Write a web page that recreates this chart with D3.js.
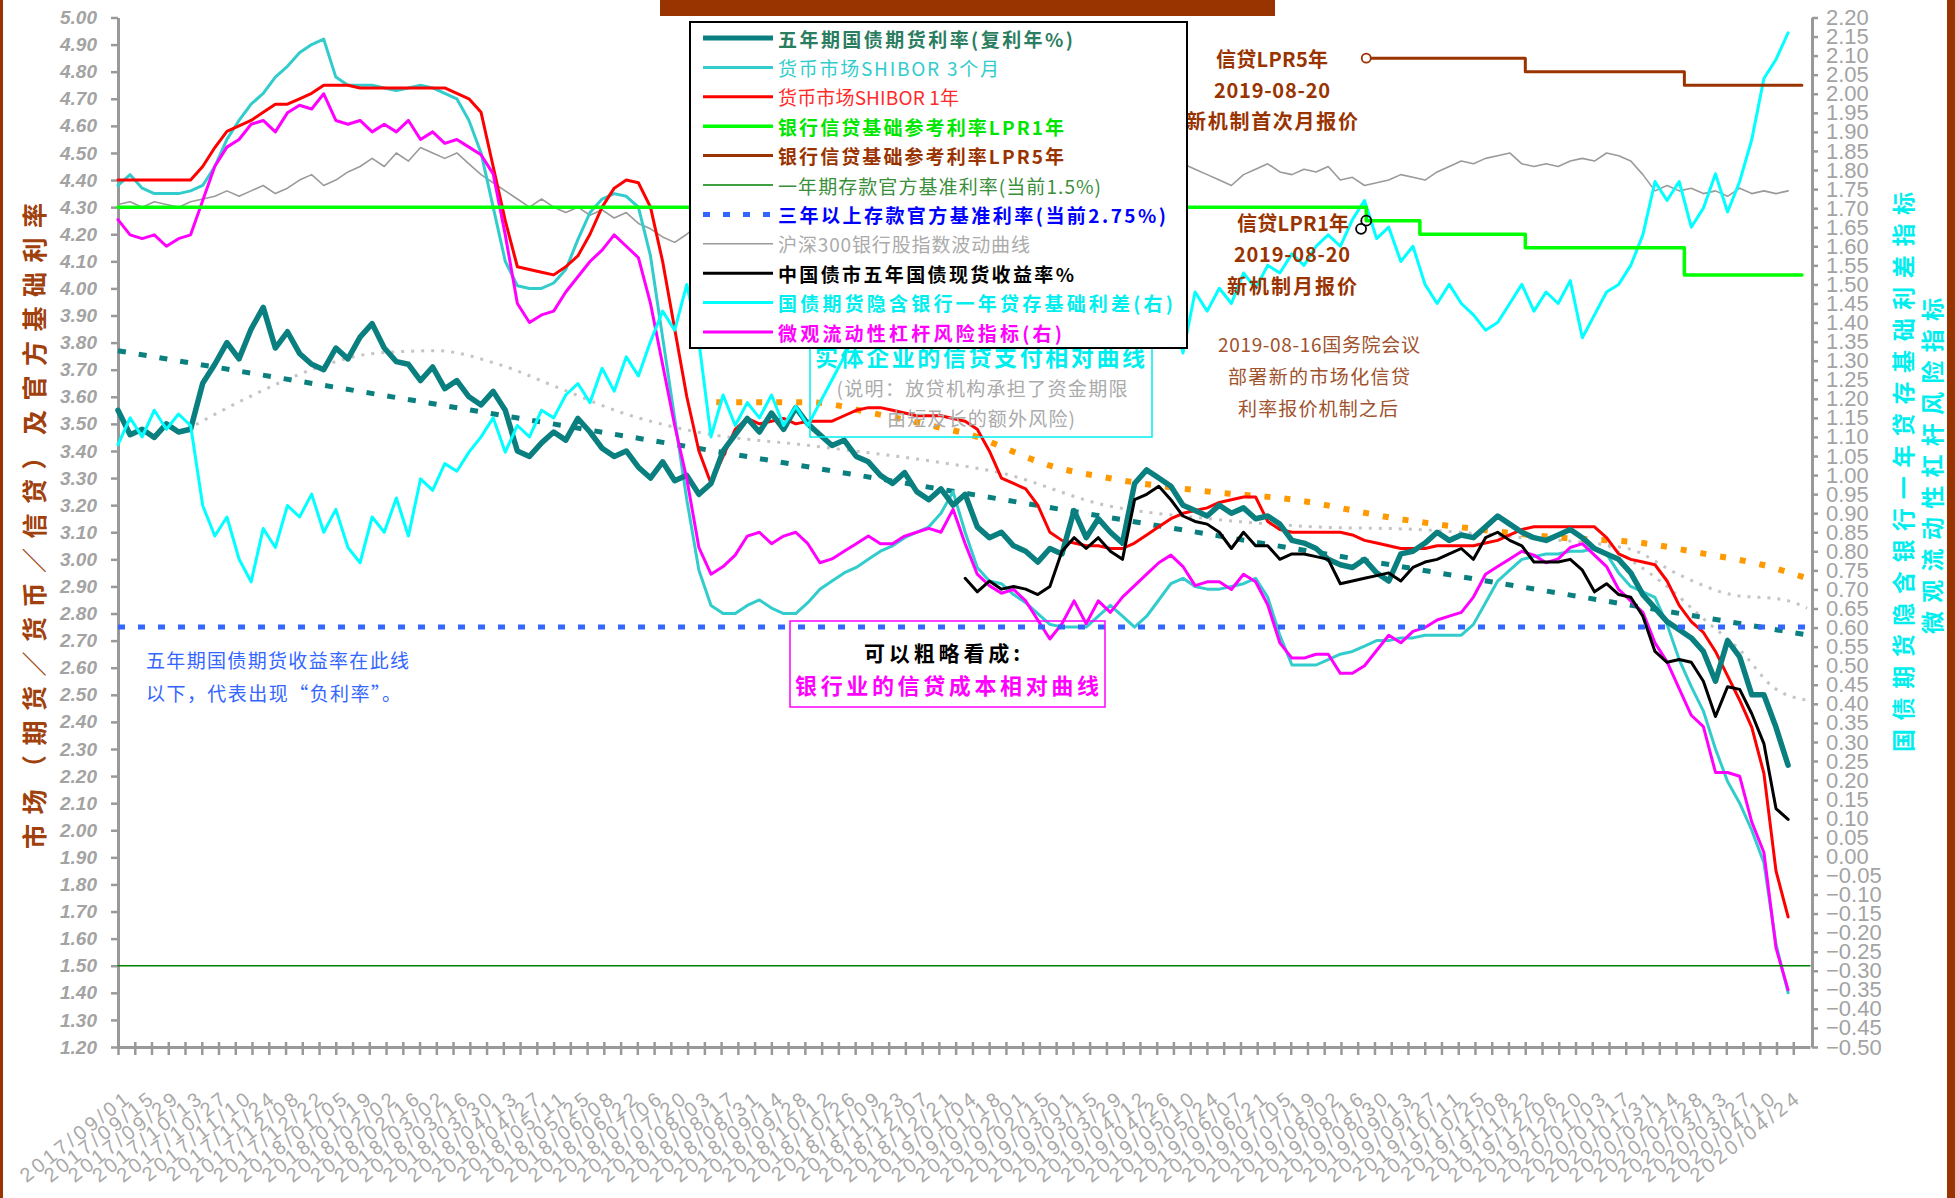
<!DOCTYPE html>
<html><head><meta charset="utf-8">
<script src="https://cdn.jsdelivr.net/npm/d3@7/dist/d3.min.js"></script>
<style>body{margin:0;background:#fff;} svg{display:block;}</style>
</head><body>
<svg id="c" width="1955" height="1198"></svg>
<script>
// ---------------- DATA ----------------
const weekStart = "2017-08-28";           // weekly observations start
const spotStart = "2018-12-31";           // spot 5Y yield starts later

const leftTicks = [1.2,1.3,1.4,1.5,1.6,1.7,1.8,1.9,2.0,2.1,2.2,2.3,2.4,2.5,2.6,2.7,2.8,2.9,3.0,3.1,3.2,3.3,3.4,3.5,3.6,3.7,3.8,3.9,4.0,4.1,4.2,4.3,4.4,4.5,4.6,4.7,4.8,4.9,5.0];
const rightTicks = [-0.5,-0.45,-0.4,-0.35,-0.3,-0.25,-0.2,-0.15,-0.1,-0.05,0,0.05,0.1,0.15,0.2,0.25,0.3,0.35,0.4,0.45,0.5,0.55,0.6,0.65,0.7,0.75,0.8,0.85,0.9,0.95,1.0,1.05,1.1,1.15,1.2,1.25,1.3,1.35,1.4,1.45,1.5,1.55,1.6,1.65,1.7,1.75,1.8,1.85,1.9,1.95,2.0,2.05,2.1,2.15,2.2];
const dateLabels = ["2017/09/01","2017/09/15","2017/09/29","2017/10/13","2017/10/27","2017/11/10","2017/11/24","2017/12/08","2017/12/22",
"2018/01/05","2018/01/19","2018/02/02","2018/02/16","2018/03/02","2018/03/16","2018/03/30","2018/04/13","2018/04/27","2018/05/11","2018/05/25","2018/06/08","2018/06/22","2018/07/06","2018/07/20","2018/08/03","2018/08/17","2018/08/31","2018/09/14","2018/09/28","2018/10/12","2018/10/26","2018/11/09","2018/11/23","2018/12/07","2018/12/21",
"2019/01/04","2019/01/18","2019/02/01","2019/02/15","2019/03/01","2019/03/15","2019/03/29","2019/04/12","2019/04/26","2019/05/10","2019/05/24","2019/06/07","2019/06/21","2019/07/05","2019/07/19","2019/08/02","2019/08/16","2019/08/30","2019/09/13","2019/09/27","2019/10/11","2019/10/25","2019/11/08","2019/11/22","2019/12/06","2019/12/20",
"2020/01/03","2020/01/17","2020/01/31","2020/02/14","2020/02/28","2020/03/13","2020/03/27","2020/04/10","2020/04/24"];

const seriesNames = ["五年期国债期货利率(复利年%)","货币市场SHIBOR 3个月","货币市场SHIBOR 1年","银行信贷基础参考利率LPR1年","银行信贷基础参考利率LPR5年","一年期存款官方基准利率(当前1.5%)","三年以上存款官方基准利率(当前2.75%)","沪深300银行股指数波动曲线","中国债市五年国债现货收益率%","国债期货隐含银行一年贷存基础利差(右)","微观流动性杠杆风险指标(右)"];

// 五年期国债期货利率 (left)
const futures5y = [3.55,3.46,3.48,3.45,3.50,3.47,3.48,3.65,3.72,3.80,
3.74,3.85,3.93,3.78,3.84,3.76,3.72,3.70,3.78,3.74,
3.82,3.87,3.78,3.73,3.72,3.66,3.71,3.63,3.66,3.60,
3.57,3.62,3.55,3.40,3.38,3.43,3.47,3.44,3.52,3.47,
3.41,3.38,3.40,3.34,3.30,3.36,3.29,3.31,3.24,3.28,
3.40,3.46,3.52,3.47,3.54,3.48,3.56,3.50,3.46,3.42,
3.44,3.38,3.36,3.31,3.28,3.32,3.25,3.22,3.26,3.20,
3.24,3.12,3.08,3.10,3.05,3.03,2.99,3.04,3.02,3.18,
3.08,3.15,3.10,3.06,3.28,3.33,3.30,3.27,3.20,3.18,
3.16,3.20,3.17,3.19,3.15,3.16,3.13,3.07,3.06,3.04,
3.00,2.98,2.97,3.00,2.95,2.92,3.02,3.03,3.06,3.10,
3.07,3.09,3.08,3.12,3.16,3.13,3.10,3.08,3.07,3.09,
3.11,3.08,3.04,3.02,3.00,2.95,2.87,2.82,2.77,2.74,
2.71,2.66,2.55,2.70,2.64,2.50,2.50,2.38,2.24];

// SHIBOR 3个月 (left)
const shibor3m = [4.38,4.42,4.37,4.35,4.35,4.35,4.36,4.38,4.45,4.55,
4.62,4.68,4.72,4.78,4.82,4.87,4.90,4.92,4.78,4.75,
4.75,4.75,4.74,4.73,4.74,4.75,4.74,4.72,4.70,4.62,
4.50,4.30,4.10,4.01,4.00,4.00,4.02,4.07,4.18,4.28,
4.33,4.35,4.34,4.30,4.12,3.82,3.52,3.22,2.96,2.83,
2.80,2.80,2.83,2.85,2.82,2.80,2.80,2.84,2.89,2.92,
2.95,2.97,3.00,3.03,3.05,3.08,3.10,3.12,3.17,3.25,
3.10,2.97,2.92,2.91,2.87,2.84,2.80,2.76,2.75,2.75,
2.75,2.79,2.83,2.79,2.75,2.79,2.85,2.91,2.93,2.90,
2.89,2.89,2.90,2.91,2.93,2.86,2.72,2.61,2.61,2.61,
2.63,2.65,2.66,2.68,2.70,2.70,2.71,2.71,2.72,2.72,
2.72,2.72,2.76,2.84,2.92,2.96,3.00,3.01,3.02,3.02,
3.03,3.03,3.04,3.02,2.95,2.90,2.88,2.86,2.76,2.63,
2.53,2.44,2.30,2.18,2.10,2.00,1.88,1.58,1.40];

// SHIBOR 1年 (left)
const shibor1y = [4.40,4.40,4.40,4.40,4.40,4.40,4.40,4.45,4.52,4.58,
4.60,4.62,4.65,4.68,4.68,4.70,4.72,4.75,4.75,4.75,
4.74,4.74,4.74,4.74,4.74,4.74,4.74,4.74,4.72,4.70,
4.65,4.45,4.25,4.08,4.07,4.06,4.05,4.08,4.12,4.20,
4.30,4.37,4.40,4.39,4.30,4.10,3.85,3.60,3.40,3.28,
3.38,3.48,3.52,3.50,3.51,3.52,3.50,3.51,3.51,3.51,
3.53,3.55,3.56,3.56,3.55,3.54,3.53,3.53,3.53,3.52,
3.51,3.48,3.40,3.30,3.28,3.26,3.20,3.10,3.07,3.06,
3.05,3.05,3.04,3.04,3.06,3.09,3.12,3.15,3.17,3.18,
3.19,3.21,3.22,3.23,3.23,3.14,3.11,3.10,3.10,3.10,
3.10,3.10,3.09,3.07,3.06,3.05,3.04,3.04,3.04,3.05,
3.05,3.05,3.05,3.06,3.07,3.09,3.11,3.12,3.12,3.12,
3.12,3.12,3.12,3.08,3.02,3.00,2.99,2.98,2.92,2.83,
2.77,2.73,2.66,2.57,2.48,2.38,2.21,1.85,1.68];

// 沪深300银行股指数波动曲线 (left)
const bankIndex = [4.31,4.32,4.30,4.32,4.31,4.30,4.32,4.33,4.34,4.36,
4.34,4.36,4.38,4.35,4.37,4.40,4.42,4.38,4.40,4.43,
4.45,4.48,4.45,4.50,4.47,4.52,4.50,4.48,4.50,4.46,
4.42,4.39,4.36,4.33,4.30,4.33,4.30,4.28,4.30,4.27,
4.29,4.26,4.28,4.24,4.22,4.19,4.17,4.20,4.24,4.28,
4.30,4.28,4.30,4.32,4.28,4.30,4.33,4.35,4.32,4.34,
4.36,4.33,4.35,4.38,4.36,4.34,4.37,4.40,4.38,4.36,
4.39,4.42,4.40,4.38,4.41,4.43,4.40,4.42,4.45,4.43,
4.41,4.44,4.46,4.43,4.45,4.47,4.44,4.46,4.46,4.44,
4.42,4.40,4.38,4.42,4.44,4.46,4.43,4.42,4.44,4.43,
4.45,4.40,4.41,4.38,4.39,4.40,4.42,4.41,4.40,4.43,
4.45,4.47,4.46,4.48,4.49,4.50,4.46,4.45,4.46,4.45,
4.47,4.48,4.47,4.50,4.49,4.47,4.42,4.36,4.38,4.36,
4.37,4.35,4.36,4.34,4.37,4.35,4.36,4.35,4.36];

// 中国债市五年国债现货收益率 (left), weekly from spotStart
const spot5y = [2.93,2.88,2.92,2.89,2.90,2.89,2.87,2.90,3.03,3.08,
3.04,3.08,3.03,3.00,3.22,3.24,3.27,3.22,3.16,3.14,
3.13,3.10,3.04,3.10,3.05,3.05,3.00,3.02,3.02,3.01,
3.00,2.91,2.92,2.93,2.94,2.95,2.92,2.97,2.99,3.00,
3.02,3.04,3.00,3.08,3.10,3.07,3.05,2.99,2.99,2.99,
3.00,2.96,2.88,2.91,2.87,2.86,2.79,2.66,2.62,2.63,
2.62,2.55,2.42,2.53,2.52,2.43,2.32,2.08,2.04];

// 国债期货隐含银行一年贷存基础利差 (right)
const impliedSpread = [1.08,1.15,1.10,1.17,1.12,1.16,1.13,0.92,0.84,0.89,
0.78,0.72,0.86,0.81,0.92,0.89,0.95,0.85,0.91,0.81,
0.77,0.89,0.85,0.94,0.84,0.99,0.96,1.03,1.01,1.06,
1.10,1.15,1.06,1.13,1.10,1.17,1.15,1.21,1.24,1.19,
1.28,1.22,1.31,1.26,1.35,1.43,1.38,1.50,1.35,1.10,
1.21,1.13,1.19,1.15,1.21,1.13,1.18,1.13,1.19,1.25,
1.31,1.38,1.42,1.45,1.50,1.43,1.53,1.48,1.55,1.45,
1.50,1.42,1.48,1.53,1.45,1.49,1.43,1.53,1.46,1.50,
1.45,1.49,1.43,1.48,1.42,1.45,1.40,1.46,1.32,1.48,
1.43,1.49,1.45,1.53,1.49,1.55,1.53,1.58,1.55,1.60,
1.63,1.60,1.67,1.72,1.62,1.65,1.56,1.60,1.50,1.45,
1.50,1.45,1.42,1.38,1.40,1.45,1.50,1.43,1.48,1.45,
1.51,1.36,1.42,1.48,1.50,1.55,1.63,1.77,1.72,1.77,
1.65,1.70,1.79,1.69,1.77,1.88,2.04,2.09,2.16];

// 微观流动性杠杆风险指标 (right)
const leverageRisk = [1.67,1.63,1.62,1.63,1.60,1.62,1.63,1.72,1.81,1.86,
1.88,1.92,1.93,1.90,1.95,1.97,1.96,2.00,1.93,1.92,
1.93,1.90,1.92,1.90,1.93,1.88,1.90,1.87,1.88,1.86,
1.84,1.79,1.63,1.45,1.40,1.42,1.43,1.48,1.52,1.56,
1.59,1.63,1.60,1.57,1.45,1.29,1.13,0.99,0.81,0.74,
0.76,0.79,0.84,0.85,0.82,0.84,0.85,0.82,0.77,0.78,
0.80,0.82,0.84,0.82,0.82,0.84,0.85,0.86,0.85,0.91,
0.82,0.74,0.71,0.69,0.70,0.67,0.62,0.57,0.61,0.67,
0.61,0.67,0.64,0.68,0.71,0.74,0.77,0.79,0.76,0.71,
0.72,0.72,0.70,0.74,0.72,0.66,0.56,0.52,0.52,0.53,
0.53,0.48,0.48,0.50,0.54,0.58,0.56,0.59,0.60,0.62,
0.63,0.64,0.68,0.74,0.76,0.78,0.80,0.79,0.77,0.78,
0.81,0.82,0.79,0.76,0.70,0.67,0.64,0.56,0.51,0.44,
0.37,0.34,0.22,0.22,0.21,0.09,0.01,-0.24,-0.35];

// LPR steps (left)
const lpr1Dates = ["2017-08-28","2019-08-20","2019-09-20","2019-11-20","2020-02-20","2020-04-28"];
const lpr1Values = [4.30,4.25,4.20,4.15,4.05,4.05];
const lpr5Dates = ["2019-08-20","2019-11-20","2020-02-20","2020-04-28"];
const lpr5Values = [4.85,4.80,4.75,4.75];
// official deposit benchmark rates
const deposit1y = 1.50;
const deposit3y = 2.75;
// trend curves (left)
const trendFutDates = ["2017-08-28","2020-05-02"];
const trendFutValues = [3.77,2.72];
const trendOrangeDates = ["2018-08-09","2018-10-02","2018-11-07","2018-12-14","2019-01-08","2019-01-23","2019-02-16","2019-03-24","2019-05-21","2019-07-09","2019-09-07","2019-10-25","2019-12-10","2020-01-27","2020-03-03","2020-04-05","2020-05-01"];
const trendOrangeValues = [3.58,3.58,3.54,3.49,3.45,3.41,3.35,3.30,3.25,3.22,3.15,3.11,3.08,3.06,3.02,2.98,2.93];
const trendGrayADates = ["2017-10-07","2017-11-12","2017-12-18","2018-01-23","2018-02-28","2018-04-05","2018-05-11","2018-06-16","2018-07-29","2018-10-02","2018-12-14","2019-01-20","2019-03-22","2019-05-21","2019-07-21","2019-09-19","2019-11-19","2020-01-18","2020-02-18","2020-03-18","2020-04-18","2020-05-01"];
const trendGrayAValues = [3.48,3.60,3.70,3.76,3.77,3.72,3.63,3.54,3.47,3.42,3.36,3.32,3.20,3.15,3.12,3.11,3.08,3.04,2.94,2.87,2.85,2.82];
const trendGrayBDates = ["2020-01-07","2020-02-08","2020-03-04","2020-03-24","2020-04-11","2020-05-01"];
const trendGrayBValues = [3.05,2.91,2.77,2.66,2.53,2.48];

// ---------------- CHART ----------------
const svg = d3.select("#c");
const W = 1955, H = 1198;
const parse = d3.timeParse("%Y-%m-%d");
const parseSlash = d3.timeParse("%Y/%m/%d");
const weeks = futures5y.map((_, i) => d3.timeDay.offset(parse(weekStart), 7 * i));
const spotWeeks = spot5y.map((_, i) => d3.timeDay.offset(parse(spotStart), 7 * i));

const x = d3.scaleTime().domain([parse("2017-08-28"), new Date(2020, 4, 2, 16)]).range([118, 1810]);
const yL = d3.scaleLinear().domain([1.2, 5.0]).range([1047, 17.5]);
const yR = d3.scaleLinear().domain([-0.5, 2.2]).range([1047, 17.5]);

const CJK = "'Noto Sans CJK SC','Noto Sans CJK JP',sans-serif";

// frame
svg.append("rect").attr("x", 0).attr("y", 0).attr("width", 3).attr("height", H).attr("fill", "#993300");
svg.append("rect").attr("x", 1947).attr("y", 0).attr("width", 8).attr("height", H).attr("fill", "#993300");
svg.append("rect").attr("x", 660).attr("y", 0).attr("width", 615).attr("height", 16).attr("fill", "#993300");

// axes
const gL = svg.append("g").attr("transform", "translate(118,0)")
  .call(d3.axisLeft(yL).tickValues(leftTicks).tickFormat(d3.format(".2f")).tickSize(7).tickSizeOuter(0).tickPadding(14));
gL.select(".domain").attr("stroke", "#999").attr("stroke-width", 3);
gL.selectAll(".tick line").attr("stroke", "#999").attr("stroke-width", 2.5);
gL.selectAll(".tick text").attr("fill", "#a3a3a3")
  .style("font-family", "'Liberation Sans',Arial,sans-serif").style("font-size", "19px")
  .style("font-weight", "bold").style("font-style", "italic");

const gR = svg.append("g").attr("transform", "translate(1812,0)")
  .call(d3.axisRight(yR).tickValues(rightTicks).tickFormat(d3.format(".2f")).tickSize(6).tickSizeOuter(0).tickPadding(8));
gR.select(".domain").attr("stroke", "#999").attr("stroke-width", 3);
gR.selectAll(".tick line").attr("stroke", "#999").attr("stroke-width", 2.5);
gR.selectAll(".tick text").attr("fill", "#a3a3a3")
  .style("font-family", "'Liberation Sans Narrow','Liberation Sans',Arial,sans-serif").style("font-size", "22px");

const xTickDates = d3.range(0, 102).map(i => d3.timeHour.offset(parse("2017-08-28"), Math.round(i * 9.69 * 24)));
const gB = svg.append("g").attr("transform", "translate(0,1047)")
  .call(d3.axisBottom(x).tickValues(xTickDates.filter(d => x(d) <= 1810)).tickFormat("").tickSize(8).tickSizeOuter(0));
gB.select(".domain").attr("stroke", "#999").attr("stroke-width", 3);
gB.selectAll(".tick line").attr("stroke", "#999").attr("stroke-width", 2.5).attr("y1", -5);

svg.append("g").selectAll("text").data(dateLabels).join("text")
  .attr("transform", d => `translate(${x(parseSlash(d)) + 8},1100) rotate(-38)`)
  .attr("text-anchor", "end")
  .attr("fill", "#a8a8a8")
  .style("font-family", "'Liberation Sans Narrow','Liberation Sans',Arial,sans-serif")
  .style("font-size", "20px").style("letter-spacing", "3.5px")
  .text(d => d);

// axis titles
svg.append("text").attr("transform", "translate(33,526) rotate(-90)")
  .attr("text-anchor", "middle").attr("dominant-baseline", "central")
  .attr("fill", "#a0410d").style("font-family", CJK).style("font-size", "25px").style("font-weight", "bold")
  .attr("textLength", 646).attr("lengthAdjust", "spacing")
  .text("市场（期货／货币／信贷）及官方基础利率");
svg.append("text").attr("transform", "translate(1902,472) rotate(-90)")
  .attr("text-anchor", "middle").attr("dominant-baseline", "central")
  .attr("fill", "#00eeee").style("font-family", CJK).style("font-size", "23px").style("font-weight", "bold")
  .attr("textLength", 560).attr("lengthAdjust", "spacing")
  .text("国债期货隐含银行一年贷存基础利差指标");
svg.append("text").attr("transform", "translate(1931,466) rotate(-90)")
  .attr("text-anchor", "middle").attr("dominant-baseline", "central")
  .attr("fill", "#00eeee").style("font-family", CJK).style("font-size", "23px").style("font-weight", "bold")
  .attr("textLength", 336).attr("lengthAdjust", "spacing")
  .text("微观流动性杠杆风险指标");

// line helper
function drawLine(dates, values, yScale, color, width, dash, curve) {
  const pts = dates.map((d, i) => [d, values[i]]);
  const gen = d3.line().defined(p => p[1] != null).x(p => x(p[0])).y(p => yScale(p[1])).curve(curve || d3.curveLinear);
  const p = svg.append("path").datum(pts).attr("d", gen).attr("fill", "none")
    .attr("stroke", color).attr("stroke-width", width).attr("stroke-linejoin", "round").attr("stroke-linecap", dash ? "butt" : "round");
  if (dash) p.attr("stroke-dasharray", dash);
  return p;
}

// thin / trend lines
drawLine(weeks, bankIndex, yL, "#9a9a9a", 1.6);
drawLine(trendGrayADates.map(parse), trendGrayAValues, yL, "#c4c4c4", 3, "3 7", d3.curveMonotoneX);
drawLine(trendGrayBDates.map(parse), trendGrayBValues, yL, "#c4c4c4", 3, "3 7", d3.curveMonotoneX);
drawLine(trendOrangeDates.map(parse), trendOrangeValues, yL, "#ff9900", 6, "6 14", d3.curveMonotoneX);
drawLine(trendFutDates.map(parse), trendFutValues, yL, "#0a7f7f", 5, "8 13");

// main series
drawLine(weeks, shibor3m, yL, "#33cccc", 3);
drawLine(weeks, shibor1y, yL, "#ff0000", 3);
drawLine(weeks, futures5y, yL, "#0a7f7f", 5.5);
drawLine(weeks, leverageRisk, yR, "#ff00ff", 3);
drawLine(weeks, impliedSpread, yR, "#00ffff", 3);
drawLine(spotWeeks, spot5y, yL, "#000000", 3);
drawLine(lpr1Dates.map(parse), lpr1Values, yL, "#00ff00", 3.5, null, d3.curveStepAfter);
drawLine(lpr5Dates.map(parse), lpr5Values, yL, "#993300", 3, null, d3.curveStepAfter);
drawLine([parse("2017-08-28"), new Date(2020, 4, 2, 16)], [deposit1y, deposit1y], yL, "#008000", 1.5);
drawLine([parse("2017-08-28"), new Date(2020, 4, 2, 16)], [deposit3y, deposit3y], yL, "#3366ff", 5, "7 13");

// markers at new LPR mechanism start
svg.append("circle").attr("cx", x(parse("2019-08-20"))).attr("cy", yL(lpr5Values[0])).attr("r", 4.5)
  .attr("fill", "#fff").attr("stroke", "#993300").attr("stroke-width", 1.8);
svg.append("circle").attr("cx", x(parse("2019-08-20"))).attr("cy", yL(lpr1Values[1])).attr("r", 5)
  .attr("fill", "none").attr("stroke", "#000").attr("stroke-width", 1.8);
svg.append("circle").attr("cx", x(parse("2019-08-17"))).attr("cy", yL(4.22)).attr("r", 5)
  .attr("fill", "none").attr("stroke", "#000").attr("stroke-width", 1.8);

// text helper
function txt(xp, yp, s, color, size, weight, len, anchor) {
  const t = svg.append("text").attr("x", xp).attr("y", yp).attr("text-anchor", anchor || "middle")
    .attr("dominant-baseline", "central").attr("fill", color)
    .style("font-family", CJK).style("font-size", size + "px").style("font-weight", weight || "normal").text(s);
  if (len) t.attr("textLength", len).attr("lengthAdjust", "spacing");
  return t;
}

// cyan annotation box (partly behind legend)
svg.append("rect").attr("x", 810).attr("y", 330).attr("width", 342).attr("height", 107)
  .attr("fill", "none").attr("stroke", "#00eeee").attr("stroke-width", 1.5);
txt(980, 356, "实体企业的信贷支付相对曲线", "#00eeee", 23, "bold", 330);
txt(982, 387, "(说明：放贷机构承担了资金期限", "#ababab", 19, "normal", 291);
txt(981, 417, "由短及长的额外风险)", "#ababab", 19, "normal", 188);

// magenta annotation box
svg.append("rect").attr("x", 790).attr("y", 621).attr("width", 315).attr("height", 86)
  .attr("fill", "none").attr("stroke", "#ff00ff").attr("stroke-width", 1.5);
txt(942, 652, "可以粗略看成:", "#000", 21, "bold", 156);
txt(947, 684, "银行业的信贷成本相对曲线", "#ff00ff", 22, "bold", 304);

// blue note
txt(146, 659, "五年期国债期货收益率在此线", "#3366ff", 19, "normal", 263, "start");
txt(146, 692, "以下，代表出现“负利率”。", "#3366ff", 19, "normal", 255, "start");

// LPR annotations
txt(1272, 58, "信贷LPR5年", "#993300", 20, "bold", 112);
txt(1272, 89, "2019-08-20", "#993300", 20, "bold", 116);
txt(1272, 120, "新机制首次月报价", "#993300", 20, "bold", 172);
txt(1293, 222, "信贷LPR1年", "#993300", 20, "bold", 112);
txt(1292, 253, "2019-08-20", "#993300", 20, "bold", 116);
txt(1292, 285, "新机制月报价", "#993300", 20, "bold", 130);
txt(1319, 343, "2019-08-16国务院会议", "#a0522d", 19, "normal", 202);
txt(1319, 375, "部署新的市场化信贷", "#a0522d", 19, "normal", 182);
txt(1318, 407, "利率报价机制之后", "#a0522d", 19, "normal", 160);

// legend
const legendColors = ["#0a7f7f","#33cccc","#ff0000","#00ff00","#993300","#008000","#3366ff","#9a9a9a","#000000","#00ffff","#ff00ff"];
const legendTextColors = ["#2b7d5f","#33cccc","#ff2a2a","#00e600","#993300","#3a8f3a","#0000ff","#ababab","#000000","#00eeee","#ff00ff"];
const legendWidths = [5,3,3,3.5,3,1.5,5,1.5,3,3,3];
const legendBold = [true,false,false,true,true,false,true,false,true,true,true];
const legendLens = [295,221,181,286,286,323,388,252,296,395,284];
const lg = svg.append("g");
lg.append("rect").attr("x", 690).attr("y", 22).attr("width", 497).attr("height", 326)
  .attr("fill", "#fff").attr("stroke", "#000").attr("stroke-width", 2);
seriesNames.forEach((name, i) => {
  const yy = 38 + i * 29.4;
  const ln = lg.append("line").attr("x1", 703).attr("x2", 773).attr("y1", yy).attr("y2", yy)
    .attr("stroke", legendColors[i]).attr("stroke-width", legendWidths[i]);
  if (i === 6) ln.attr("stroke-dasharray", "7 13");
  lg.append("text").attr("x", 778).attr("y", yy).attr("dominant-baseline", "central")
    .attr("fill", legendTextColors[i]).style("font-family", CJK).style("font-size", "19px")
    .style("font-weight", legendBold[i] ? "bold" : "normal")
    .attr("textLength", legendLens[i]).attr("lengthAdjust", "spacing").text(name);
});
</script>
</body></html>
